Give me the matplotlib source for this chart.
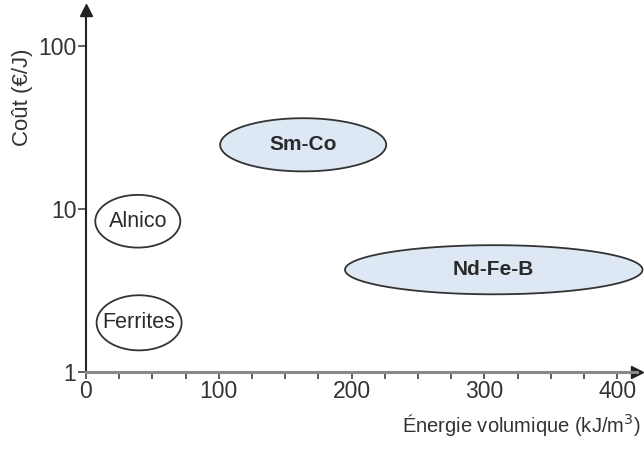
import numpy as np
import matplotlib
matplotlib.use("Agg")
import matplotlib.pyplot as plt
from matplotlib.ticker import FixedLocator, NullLocator

plt.rcParams['font.family'] = ['Liberation Sans', 'DejaVu Sans']

# Magnet families: ranges of volume energy (kJ/m3) and cost (EUR/J)
materials = ['Alnico', 'Ferrites', 'Sm-Co', 'Nd-Fe-B']
energy_min = [7, 8, 101, 195]
energy_max = [71, 72, 226, 419]
cost_min = [5.8, 1.36, 17, 3.0]
cost_max = [12.2, 2.96, 36, 6.0]
filled = [False, False, True, True]

x_ticks = [0, 100, 200, 300, 400]
y_ticks = [1, 10, 100]

fig = plt.figure(figsize=(6.44, 4.5), dpi=100)
ax = fig.add_axes([0.1335, 0.173, 0.856, 0.805])
ax.set_yscale('log')
ax.set_xlim(0, 415)
ax.set_ylim(1, 166)

t = np.linspace(0, 2 * np.pi, 200)
for name, x0, x1, c0, c1, fill in zip(materials, energy_min, energy_max, cost_min, cost_max, filled):
    cx = (x0 + x1) / 2
    a = (x1 - x0) / 2
    ly = (np.log10(c0) + np.log10(c1)) / 2
    b = (np.log10(c1) - np.log10(c0)) / 2
    xs = cx + a * np.cos(t)
    ys = 10 ** (ly + b * np.sin(t))
    ax.fill(xs, ys, facecolor='#dde8f4' if fill else 'white', edgecolor='#333333',
            lw=1.3, clip_on=False, zorder=3)
    ax.text(cx, 10 ** ly, name, ha='center', va='center',
            fontsize=15 if fill else 15.5,
            fontweight='bold' if fill else 'normal', color='#2a2a2a', zorder=4)

for s in ['top', 'right']:
    ax.spines[s].set_visible(False)
ax.spines['left'].set_linewidth(1.5)
ax.spines['left'].set_color('#222222')
ax.spines['bottom'].set_linewidth(2.2)
ax.spines['bottom'].set_color('#8a8a8a')

# arrow heads
ax.plot(1, 0, '>', color='#222222', ms=9, transform=ax.transAxes, clip_on=False)
ax.plot(0, 1, '^', color='#222222', ms=9, transform=ax.transAxes, clip_on=False)

ax.xaxis.set_major_locator(FixedLocator(x_ticks))
ax.xaxis.set_minor_locator(FixedLocator(np.arange(25, 401, 25)))
ax.yaxis.set_major_locator(FixedLocator(y_ticks))
ax.yaxis.set_minor_locator(NullLocator())
ax.set_yticklabels([str(v) for v in y_ticks])
ax.tick_params(axis='x', which='both', direction='out', length=5, width=1.2,
               color='#444444', labelsize=16.5, pad=1, labelcolor='#333333')
ax.tick_params(axis='y', which='major', direction='out', length=6, width=1.2,
               color='#444444', labelsize=16.5, pad=1, labelcolor='#333333')

fig.text(0.035, 0.785, 'Coût (€/J)', rotation=90, ha='center', va='center',
         fontsize=16, color='#333333')
fig.text(0.995, 0.055, 'Énergie volumique (kJ/m$^3$)', ha='right', va='center',
         fontsize=14.5, color='#333333')

fig.savefig('out.png', dpi=100)
